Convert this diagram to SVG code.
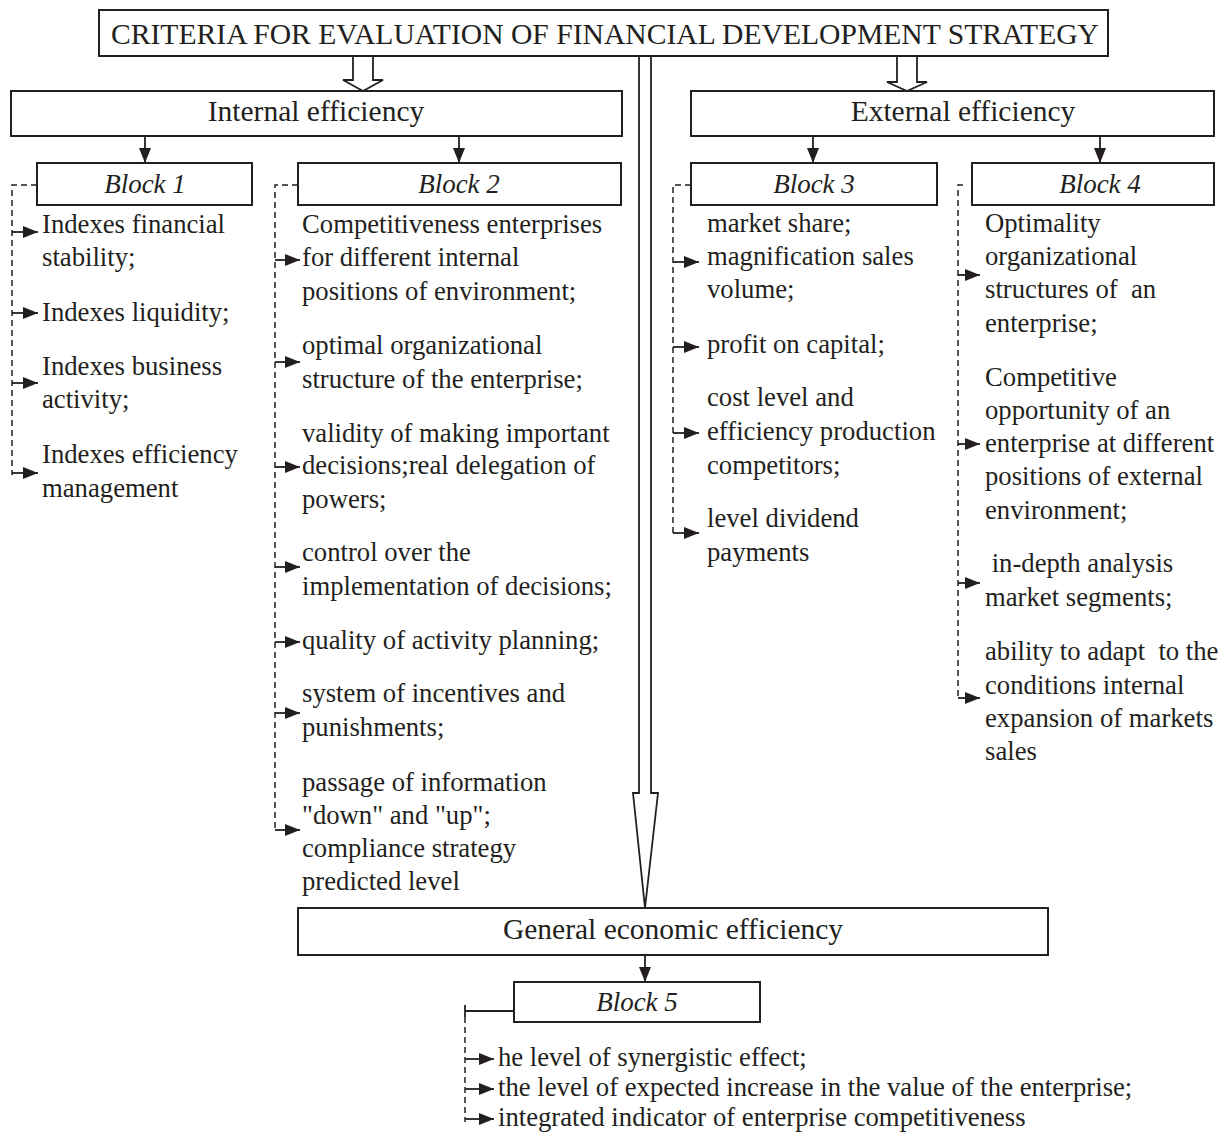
<svg xmlns="http://www.w3.org/2000/svg" width="1218" height="1133" viewBox="0 0 1218 1133">
<style>
.box{fill:#fff;stroke:#231f20;stroke-width:2}
.t{font-family:"Liberation Serif","Times New Roman",serif;fill:#231f20}
.title{font-size:29.5px}
.head{font-size:29.5px}
.blk{font-size:27px;font-style:italic}
.item{font-size:26.7px;white-space:pre}
.dash{fill:none;stroke:#231f20;stroke-width:1.5;stroke-dasharray:6 4}
.sol{fill:none;stroke:#231f20;stroke-width:1.8}
.hollow{fill:#fff;stroke:#231f20;stroke-width:1.8;stroke-linejoin:miter}
</style>
<defs>
<marker id="ah" markerUnits="userSpaceOnUse" markerWidth="16" markerHeight="14" refX="15" refY="6" orient="auto">
<path d="M0,0 L15,6 L0,12 z" fill="#231f20"/>
</marker>
</defs>
<rect width="1218" height="1133" fill="#fff"/>

<g id="connectors">
<polygon class="hollow" points="353,56 373,56 373,80 383,80 363,91 343,80 353,80"/>
<polygon class="hollow" points="897,56 917,56 917,82 927,82 907,91 887,82 897,82"/>
<polygon class="hollow" points="639,56 651,56 651,793 658,793 645,908 633,793 639,793"/>
<path class="sol" d="M145,136 V163" marker-end="url(#ah)"/>
<path class="sol" d="M459,136 V163" marker-end="url(#ah)"/>
<path class="sol" d="M813,136 V163" marker-end="url(#ah)"/>
<path class="sol" d="M1100,136 V163" marker-end="url(#ah)"/>
<path class="sol" d="M645,955 V982" marker-end="url(#ah)"/>

<path class="dash" d="M37,185 H12 V475"/>
<path class="sol" d="M12,232 H38" marker-end="url(#ah)"/>
<path class="sol" d="M12,313 H38" marker-end="url(#ah)"/>
<path class="sol" d="M12,383 H38" marker-end="url(#ah)"/>
<path class="sol" d="M12,473 H38" marker-end="url(#ah)"/>

<path class="dash" d="M298,185 H275 V832"/>
<path class="sol" d="M275,260 H300" marker-end="url(#ah)"/>
<path class="sol" d="M275,362 H300" marker-end="url(#ah)"/>
<path class="sol" d="M275,467 H300" marker-end="url(#ah)"/>
<path class="sol" d="M275,567 H300" marker-end="url(#ah)"/>
<path class="sol" d="M275,642 H300" marker-end="url(#ah)"/>
<path class="sol" d="M275,713 H300" marker-end="url(#ah)"/>
<path class="sol" d="M275,830 H300" marker-end="url(#ah)"/>

<path class="dash" d="M691,185 H673 V536"/>
<path class="sol" d="M673,262 H699" marker-end="url(#ah)"/>
<path class="sol" d="M673,347 H699" marker-end="url(#ah)"/>
<path class="sol" d="M673,433 H699" marker-end="url(#ah)"/>
<path class="sol" d="M673,533 H699" marker-end="url(#ah)"/>

<path class="dash" d="M963,185 H958 V700"/>
<path class="sol" d="M958,275 H980" marker-end="url(#ah)"/>
<path class="sol" d="M958,444 H980" marker-end="url(#ah)"/>
<path class="sol" d="M958,583 H980" marker-end="url(#ah)"/>
<path class="sol" d="M958,698 H980" marker-end="url(#ah)"/>

<path class="sol" d="M514,1011 H465 M465,1005 V1017"/>
<path class="dash" d="M465,1017 V1122"/>
<path class="sol" d="M465,1059 H494" marker-end="url(#ah)"/>
<path class="sol" d="M465,1089 H494" marker-end="url(#ah)"/>
<path class="sol" d="M465,1119 H494" marker-end="url(#ah)"/>
</g>

<g id="title">
<rect class="box" x="99" y="10" width="1009" height="46"/>
<text class="t title" x="111" y="43.5" textLength="988" lengthAdjust="spacingAndGlyphs">CRITERIA FOR EVALUATION OF FINANCIAL DEVELOPMENT STRATEGY</text>
</g>

<g id="internal">
<rect class="box" x="11" y="91" width="611" height="45"/>
<text class="t head" x="316" y="121" text-anchor="middle">Internal efficiency</text>
</g>

<g id="external">
<rect class="box" x="691" y="91" width="523" height="45"/>
<text class="t head" x="963" y="121" text-anchor="middle">External efficiency</text>
</g>

<g id="block1">
<rect class="box" x="37" y="163" width="215" height="42"/>
<text class="t blk" x="145" y="193" text-anchor="middle">Block 1</text>
<text class="t item" x="42" y="233">Indexes financial</text>
<text class="t item" x="42" y="266">stability;</text>
<text class="t item" x="42" y="321">Indexes liquidity;</text>
<text class="t item" x="42" y="375">Indexes business</text>
<text class="t item" x="42" y="408">activity;</text>
<text class="t item" x="42" y="463">Indexes efficiency</text>
<text class="t item" x="42" y="497">management</text>
</g>

<g id="block2">
<rect class="box" x="298" y="163" width="323" height="42"/>
<text class="t blk" x="459" y="193" text-anchor="middle">Block 2</text>
<text class="t item" x="302" y="233">Competitiveness enterprises</text>
<text class="t item" x="302" y="266">for different internal</text>
<text class="t item" x="302" y="300">positions of environment;</text>
<text class="t item" x="302" y="354">optimal organizational</text>
<text class="t item" x="302" y="388">structure of the enterprise;</text>
<text class="t item" x="302" y="442">validity of making important</text>
<text class="t item" x="302" y="474">decisions;real delegation of</text>
<text class="t item" x="302" y="508">powers;</text>
<text class="t item" x="302" y="561">control over the</text>
<text class="t item" x="302" y="595">implementation of decisions;</text>
<text class="t item" x="302" y="649">quality of activity planning;</text>
<text class="t item" x="302" y="702">system of incentives and</text>
<text class="t item" x="302" y="736">punishments;</text>
<text class="t item" x="302" y="791">passage of information</text>
<text class="t item" x="302" y="824">"down" and "up";</text>
<text class="t item" x="302" y="857">compliance strategy</text>
<text class="t item" x="302" y="890">predicted level</text>
</g>

<g id="block3">
<rect class="box" x="691" y="163" width="246" height="42"/>
<text class="t blk" x="814" y="193" text-anchor="middle">Block 3</text>
<text class="t item" x="707" y="232">market share;</text>
<text class="t item" x="707" y="265">magnification sales</text>
<text class="t item" x="707" y="298">volume;</text>
<text class="t item" x="707" y="353">profit on capital;</text>
<text class="t item" x="707" y="406">cost level and</text>
<text class="t item" x="707" y="440">efficiency production</text>
<text class="t item" x="707" y="474">competitors;</text>
<text class="t item" x="707" y="527">level dividend</text>
<text class="t item" x="707" y="561">payments</text>
</g>

<g id="block4">
<rect class="box" x="972" y="163" width="242" height="42"/>
<text class="t blk" x="1100" y="193" text-anchor="middle">Block 4</text>
<text class="t item" x="985" y="232">Optimality</text>
<text class="t item" x="985" y="265">organizational</text>
<text class="t item" x="985" y="298">structures of  an</text>
<text class="t item" x="985" y="332">enterprise;</text>
<text class="t item" x="985" y="386">Competitive</text>
<text class="t item" x="985" y="419">opportunity of an</text>
<text class="t item" x="985" y="452">enterprise at different</text>
<text class="t item" x="985" y="485">positions of external</text>
<text class="t item" x="985" y="519">environment;</text>
<text class="t item" x="985" y="572"> in-depth analysis</text>
<text class="t item" x="985" y="606">market segments;</text>
<text class="t item" x="985" y="660">ability to adapt  to the</text>
<text class="t item" x="985" y="694">conditions internal</text>
<text class="t item" x="985" y="727">expansion of markets</text>
<text class="t item" x="985" y="760">sales</text>
</g>

<g id="general">
<rect class="box" x="298" y="908" width="750" height="47"/>
<text class="t head" x="673" y="939" text-anchor="middle">General economic efficiency</text>
</g>

<g id="block5">
<rect class="box" x="514" y="982" width="246" height="40"/>
<text class="t blk" x="637" y="1011" text-anchor="middle">Block 5</text>
<text class="t item" x="498" y="1066">he level of synergistic effect;</text>
<text class="t item" x="498" y="1096">the level of expected increase in the value of the enterprise;</text>
<text class="t item" x="498" y="1126">integrated indicator of enterprise competitiveness</text>
</g>
</svg>
